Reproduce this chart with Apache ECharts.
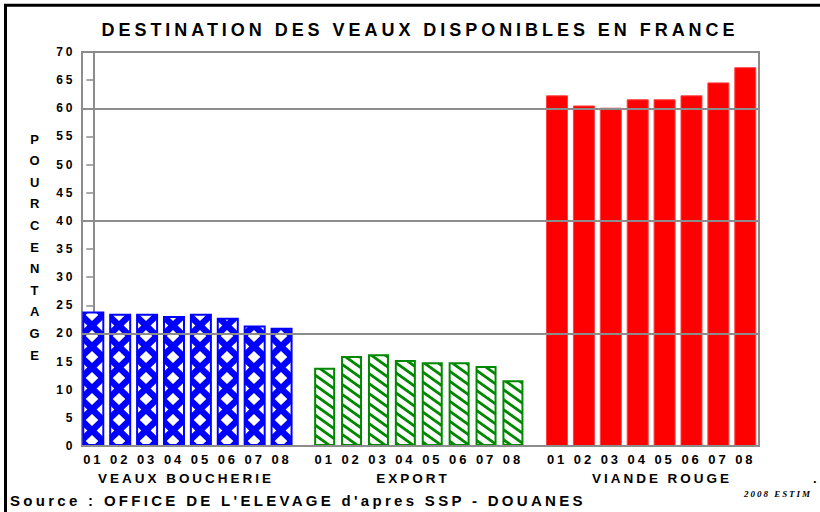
<!DOCTYPE html>
<html>
<head>
<meta charset="utf-8">
<script src="https://cdn.jsdelivr.net/npm/echarts@6/dist/echarts.min.js"></script>
<style>
html, body { margin: 0; padding: 0; background: #fff; }
#main { width: 820px; height: 512px; }
#main text { letter-spacing: 0.22em; }
</style>
</head>
<body>
<div id="main"></div>
<script>
// donnees (%)
var years = ['01', '02', '03', '04', '05', '06', '07', '08'];
var groupNames = ['VEAUX BOUCHERIE', 'EXPORT', 'VIANDE ROUGE'];
var veauxBoucherie = [23.9, 23.5, 23.5, 23.1, 23.5, 22.8, 21.4, 21.0];
var exportVeaux = [13.9, 16.0, 16.3, 15.3, 14.9, 14.9, 14.2, 11.7];
var viandeRouge = [62.3, 60.5, 60.1, 61.6, 61.6, 62.3, 64.6, 67.3];
var yMin = 0, yMax = 70, yStep = 5, gridStep = 20;

var FONT = '"Liberation Sans", Arial, sans-serif';
var GRAY = '#8c8c8c';
var GROUP_STEP = 8.62;
var BAR_W = 22;

function toPoints(values, g) {
    return values.map(function (v, i) {
        return [g * GROUP_STEP + i, v];
    });
}

// motif croisillons (bleu)
function crossTile() {
    var c = document.createElement('canvas');
    c.width = 27; c.height = 21;
    var ctx = c.getContext('2d');
    ctx.fillStyle = '#fff';
    ctx.fillRect(0, 0, 27, 21);
    ctx.strokeStyle = '#0000ff';
    ctx.lineWidth = 6.5;
    for (var k = -1; k <= 1; k++) {
        ctx.beginPath(); ctx.moveTo(0, k * 21); ctx.lineTo(22, (k + 1) * 21); ctx.stroke();
        ctx.beginPath(); ctx.moveTo(22, k * 21); ctx.lineTo(0, (k + 1) * 21); ctx.stroke();
    }
    return c.toDataURL();
}

// motif hachures (vert)
function stripeTile() {
    var w = 14, h = 10;
    var c = document.createElement('canvas');
    c.width = w; c.height = h;
    var ctx = c.getContext('2d');
    ctx.fillStyle = '#fff';
    ctx.fillRect(0, 0, w, h);
    ctx.strokeStyle = '#008800';
    ctx.lineWidth = 2.8;
    for (var k = -1; k <= 1; k++) {
        ctx.beginPath(); ctx.moveTo(-w, (k - 1) * h); ctx.lineTo(2 * w, (k + 2) * h); ctx.stroke();
    }
    return c.toDataURL();
}

function yearLabel() {
    return {
        show: true,
        position: 'bottom',
        distance: 7,
        color: '#000',
        fontFamily: FONT,
        fontWeight: 'bold',
        fontSize: 13,
        formatter: function (p) { return years[p.dataIndex]; }
    };
}

function txt(text, x, y, align, font) {
    return {
        type: 'text',
        style: {
            text: text, x: x, y: y,
            align: align, verticalAlign: 'middle',
            textAlign: align, textVerticalAlign: 'middle',
            font: font, fill: '#000'
        }
    };
}

var chart = echarts.init(document.getElementById('main'), null, { renderer: 'svg' });

var yTitle = txt('POURCENTAGE'.split('').join('\n'), 36, 247, 'center', 'bold 13px ' + FONT);
yTitle.style.lineHeight = 21.6;

var option = {
    animation: false,
    backgroundColor: '#fff',
    grid: {
        left: 82, right: 61, top: 52, bottom: 66,
        show: true,
        backgroundColor: 'rgba(0,0,0,0)',
        borderColor: GRAY,
        borderWidth: 2,
        outerBoundsMode: 'none'
    },
    xAxis: [{
        type: 'value',
        min: -0.42,
        max: 24.75,
        z: 5,
        axisLine: { show: true, lineStyle: { color: GRAY, width: 2 } },
        axisTick: { show: false },
        axisLabel: { show: false },
        splitLine: { show: false }
    }],
    yAxis: [{
        type: 'value',
        min: yMin,
        max: yMax,
        interval: yStep,
        axisLine: { show: true, lineStyle: { color: GRAY, width: 2 } },
        axisTick: { show: true, length: 7, lineStyle: { color: GRAY, width: 1.5 } },
        axisLabel: { margin: 7, color: '#000', fontFamily: FONT, fontWeight: 'bold', fontSize: 12 },
        splitLine: { show: false }
    }, {
        type: 'value',
        min: yMin,
        max: yMax,
        interval: gridStep,
        position: 'left',
        z: 5,
        axisLine: { show: false },
        axisTick: { show: false },
        axisLabel: { show: false },
        splitLine: { show: true, lineStyle: { color: GRAY, width: 2 } }
    }],
    graphic: [
        {
            type: 'rect',
            shape: { x: 5.5, y: 5.3, width: 900, height: 600 },
            style: { fill: 'none', stroke: '#000', lineWidth: 3 },
            silent: true
        },
        txt('DESTINATION DES VEAUX DISPONIBLES EN FRANCE', 420, 30, 'center', 'bold 18px ' + FONT),
        yTitle,
        txt(groupNames[0], 186, 478, 'center', 'bold 13.5px ' + FONT),
        txt(groupNames[1], 413, 478, 'center', 'bold 13.5px ' + FONT),
        txt(groupNames[2], 662, 478, 'center', 'bold 13.5px ' + FONT),
        txt("Source : OFFICE DE L'ELEVAGE d'apres SSP - DOUANES", 10, 500, 'left', 'bold 15px ' + FONT),
        txt('.', 813, 478, 'left', 'bold 13px ' + FONT),
        txt('2008 ESTIM', 744, 494, 'left', 'italic bold 9px "Liberation Serif", serif')
    ],
    series: [
        {
            id: 'veaux',
            name: groupNames[0],
            type: 'bar',
            barWidth: BAR_W,
            barGap: '-100%',
            silent: true,
            itemStyle: { color: '#0000ff', borderColor: '#0000ff', borderWidth: 2 },
            label: yearLabel(),
            data: toPoints(veauxBoucherie, 0)
        },
        {
            id: 'export',
            name: groupNames[1],
            type: 'bar',
            barWidth: BAR_W - 1,
            barGap: '-100%',
            silent: true,
            itemStyle: { color: '#fff', borderColor: '#008800', borderWidth: 2 },
            label: yearLabel(),
            data: toPoints(exportVeaux, 1)
        },
        {
            id: 'viande',
            name: groupNames[2],
            type: 'bar',
            barWidth: BAR_W,
            barGap: '-100%',
            silent: true,
            itemStyle: { color: '#ff0000', borderColor: '#ff4040', borderWidth: 1 },
            label: yearLabel(),
            data: toPoints(viandeRouge, 2)
        }
    ]
};
chart.setOption(option);

// motifs cales sur les barres
var x0 = chart.convertToPixel({ xAxisIndex: 0 }, 0);
var x1 = chart.convertToPixel({ xAxisIndex: 0 }, 1);
var y0 = chart.convertToPixel({ yAxisIndex: 0 }, 0);
chart.setOption({
    series: [
        {
            id: 'veaux',
            itemStyle: {
                color: {
                    image: crossTile(), repeat: 'repeat', imageWidth: 27, imageHeight: 21,
                    x: x0 - BAR_W / 2, y: y0 - 7, scaleX: (x1 - x0) / 27
                }
            }
        },
        {
            id: 'export',
            itemStyle: {
                color: { image: stripeTile(), repeat: 'repeat', imageWidth: 14, imageHeight: 10 }
            }
        }
    ]
});
</script>
</body>
</html>
